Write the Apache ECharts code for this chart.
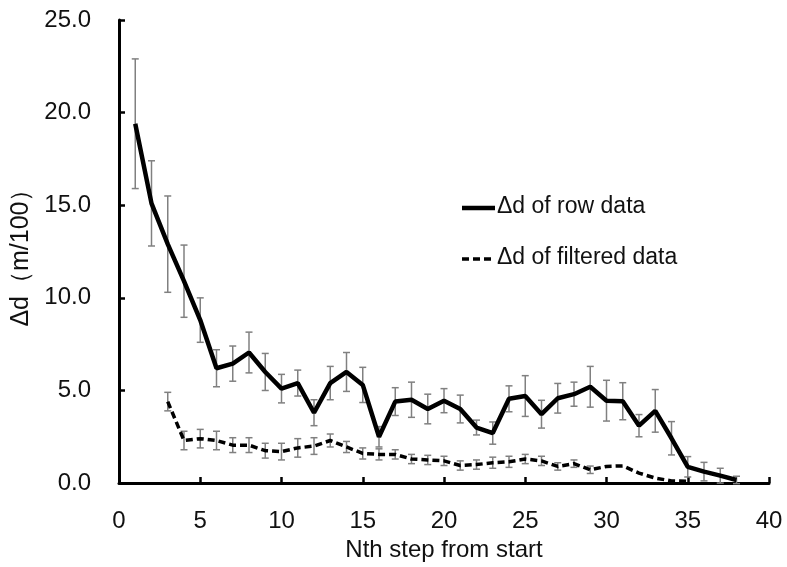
<!DOCTYPE html>
<html>
<head>
<meta charset="utf-8">
<script src="https://cdn.jsdelivr.net/npm/echarts@6/dist/echarts.min.js"></script>
<style>html,body{margin:0;padding:0;background:#fff}#c{width:787px;height:567px}</style>
</head>
<body>
<div id="c"></div>
<script>
var rowSteps = [1,2,3,4,5,6,7,8,9,10,11,12,13,14,15,16,17,18,19,20,21,22,23,24,25,26,27,28,29,30,31,32,33,34,35,36,37,38];
var rowMean = [19.4,15.1,12.9,10.9,8.8,6.2,6.45,7.05,6.0,5.1,5.4,3.8,5.4,6.0,5.3,2.5,4.4,4.5,4.0,4.45,4.0,3.0,2.7,4.55,4.7,3.72,4.58,4.8,5.2,4.45,4.42,3.1,3.9,2.42,0.88,0.62,0.4,0.17];
var rowErr = [3.5,2.3,2.6,1.95,1.2,1.0,0.95,1.1,1.0,0.77,0.7,0.7,0.9,1.05,0.95,0.55,0.75,0.95,0.8,0.65,0.75,0.4,0.6,0.7,1.1,0.75,0.8,0.65,1.1,1.1,1.0,0.6,1.15,0.9,0.55,0.5,0.4,0.2];

var filtSteps = [3,4,5,6,7,8,9,10,11,12,13,14,15,16,17,18,19,20,21,22,23,24,25,26,27,28,29,30,31,32,33,34,35];
var filtMean = [4.4,2.3,2.4,2.3,2.05,2.05,1.75,1.7,1.9,2.0,2.3,1.95,1.6,1.55,1.55,1.3,1.25,1.2,0.95,1.0,1.1,1.15,1.3,1.2,0.9,1.05,0.72,0.9,0.93,0.54,0.27,0.12,0.1];
var filtErr = [0.5,0.5,0.5,0.5,0.4,0.4,0.4,0.45,0.5,0.45,0.35,0.3,0.3,0.3,0.25,0.25,0.25,0.25,0.25,0.25,0.3,0.3,0.25,0.25,0.2,0.2,0.2,0,0,0,0,0,0];

var seriesNames = ['Δd of row data','Δd of filtered data'];
var xTicks = [0,5,10,15,20,25,30,35,40];
var yTicks = [0,5,10,15,20,25];

var FONT = '"Liberation Sans", Arial, sans-serif';

function pairs(xs, ys){ return xs.map(function(x,i){ return [x, ys[i]]; }); }
function errData(xs, ys, es){
  var out = [];
  xs.forEach(function(x,i){ if (es[i] > 0) out.push([x, ys[i]-es[i], ys[i]+es[i]]); });
  return out;
}
function errRender(params, api){
  var x = api.value(0);
  var lo = api.coord([x, api.value(1)]);
  var hi = api.coord([x, api.value(2)]);
  var w = 3.5;
  var st = {stroke:'#808080', lineWidth:1.5};
  return {type:'group', children:[
    {type:'line', shape:{x1:lo[0],y1:lo[1],x2:hi[0],y2:hi[1]}, style:st},
    {type:'line', shape:{x1:lo[0]-w,y1:lo[1],x2:lo[0]+w,y2:lo[1]}, style:st},
    {type:'line', shape:{x1:hi[0]-w,y1:hi[1],x2:hi[0]+w,y2:hi[1]}, style:st}
  ]};
}

var chart = echarts.init(document.getElementById('c'), null, {renderer:'canvas'});
chart.setOption({
  animation:false,
  backgroundColor:'#fff',
  grid:{left:119, right:18, top:20, bottom:82},
  graphic:[
    {type:'line', shape:{x1:462,y1:208,x2:495,y2:208}, style:{stroke:'#000', lineWidth:4.5}},
    {type:'text', left:497, top:195, style:{text:seriesNames[0], font:'23px "Liberation Sans", Arial, sans-serif', fill:'#111'}},
    {type:'line', shape:{x1:462,y1:259,x2:495,y2:259}, style:{stroke:'#000', lineWidth:3.5, lineDash:[7,4]}},
    {type:'text', left:497, top:246, style:{text:seriesNames[1], font:'23px "Liberation Sans", Arial, sans-serif', fill:'#111'}}
  ],
  xAxis:{
    type:'value', min:xTicks[0], max:xTicks[xTicks.length-1], interval:5,
    name:'Nth step from start', nameLocation:'middle', nameGap:53,
    nameTextStyle:{fontFamily:FONT, fontSize:24, color:'#111'},
    axisLine:{lineStyle:{color:'#000', width:3}},
    axisTick:{inside:true, length:6, lineStyle:{color:'#000', width:2.5}},
    axisLabel:{margin:26, fontFamily:FONT, fontSize:24, color:'#111'},
    splitLine:{show:false}
  },
  yAxis:{
    type:'value', min:yTicks[0], max:yTicks[yTicks.length-1], interval:5,
    name:'Δd（m/100）', nameLocation:'middle', nameGap:74, nameRotate:90,
    nameTextStyle:{fontFamily:FONT, fontSize:25, color:'#111'},
    axisLine:{show:true, lineStyle:{color:'#000', width:3}},
    axisTick:{show:true, inside:true, length:6, lineStyle:{color:'#000', width:2.5}},
    axisLabel:{margin:28, fontFamily:FONT, fontSize:24, color:'#111', formatter:function(v){return v.toFixed(1);}},
    splitLine:{show:false}
  },
  series:[
    {type:'custom', name:'errRow', renderItem:errRender, data:errData(rowSteps,rowMean,rowErr), z:1, silent:true},
    {type:'custom', name:'errFilt', renderItem:errRender, data:errData(filtSteps,filtMean,filtErr), z:1, silent:true},
    {type:'line', name:seriesNames[0], data:pairs(rowSteps,rowMean), symbol:'none', z:3,
      lineStyle:{color:'#000', width:4.5}, itemStyle:{color:'#000'}},
    {type:'line', name:seriesNames[1], data:pairs(filtSteps,filtMean), symbol:'none', z:3,
      lineStyle:{color:'#000', width:3.5, type:[7,4]}, itemStyle:{color:'#000'}}
  ]
});
</script>
</body>
</html>
